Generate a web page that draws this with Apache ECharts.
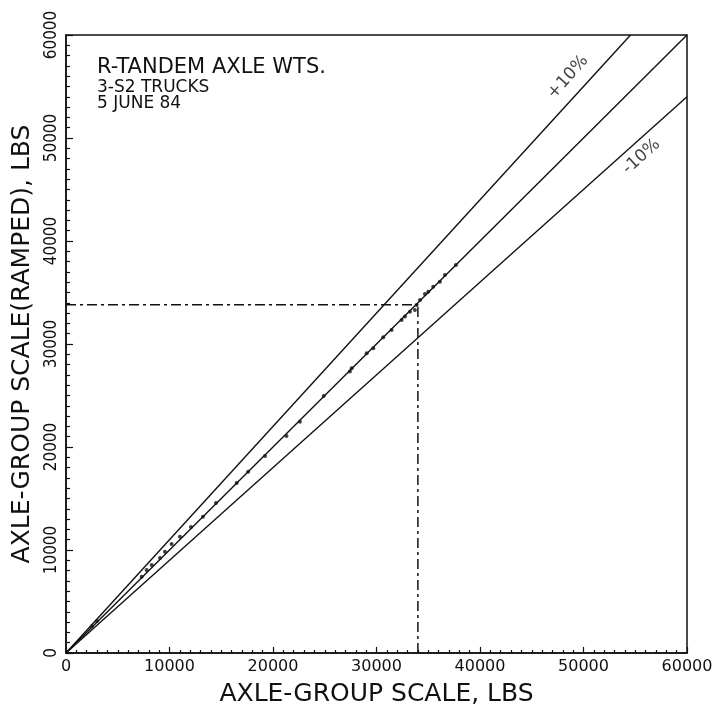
<!DOCTYPE html>
<html>
<head>
<meta charset="utf-8">
<script src="https://cdn.jsdelivr.net/npm/echarts@6/dist/echarts.min.js"></script>
<style>
html,body{margin:0;padding:0;background:#fff;}
#chart{width:719px;height:714px;}
</style>
</head>
<body>
<div id="chart"></div>
<script>
// ---- data ----
const axisTicks = [0, 10000, 20000, 30000, 40000, 50000, 60000];
const pointX = [2500, 3000, 7310, 7790, 8280, 9080, 9560, 10200, 11010, 12070, 13230, 14490, 16490, 17600, 19230, 21300, 22600, 24900, 27430, 27600, 29050, 29690, 30650, 31460, 32430, 32750, 33230, 33710, 33880, 34200, 34680, 35000, 35480, 36130, 36610, 37670];
const pointY = [2600, 3100, 7410, 8060, 8540, 9220, 9840, 10580, 11290, 12230, 13230, 14560, 16500, 17600, 19130, 21070, 22460, 24950, 27320, 27650, 29100, 29590, 30650, 31370, 32340, 32660, 33140, 33300, 33790, 34280, 34860, 35080, 35570, 36050, 36700, 37680];
const lineEqual = [[0, 0], [60000, 60000]];
const linePlus10 = [[0, 0], [54545, 60000]];
const lineMinus10 = [[0, 0], [60000, 54000]];
const refX = 34000;
const refY = 33800;
const refHoriz = [[0, refY], [refX, refY]];
const refVert = [[refX, 0], [refX, refY]];
const plusLabel = ['+10%', 48500, 55900];
const minusLabel = ['-10%', 55600, 48200];
const noteLines = ['R-TANDEM AXLE WTS.', '3-S2 TRUCKS', '5 JUNE 84'];
const xTitle = 'AXLE-GROUP SCALE, LBS';
const yTitle = 'AXLE-GROUP SCALE(RAMPED), LBS';

const points = pointX.map((x, i) => [x, pointY[i]]);
const FONT = 'DejaVu Sans';

const chart = echarts.init(document.getElementById('chart'), null, {renderer: 'canvas'});
const lineStyle = {color: '#111', width: 1.4};
chart.setOption({
  backgroundColor: '#fff',
  animation: false,
  grid: {left: 66, right: 32, top: 35, bottom: 61, show: true, borderColor: '#111', borderWidth: 1.5, containLabel: false},
  xAxis: {
    type: 'value', min: 0, max: 60000, interval: 10000,
    name: xTitle, nameLocation: 'middle', nameGap: 29,
    nameTextStyle: {fontFamily: FONT, fontSize: 25, color: '#111'},
    axisLine: {show: true, lineStyle: {color: '#111', width: 1.5}},
    axisTick: {show: true, inside: true, length: 6, lineStyle: {color: '#111', width: 1.2}},
    minorTick: {show: true, splitNumber: 10, length: 3, lineStyle: {color: '#111', width: 1.2}},
    axisLabel: {fontFamily: FONT, fontSize: 16, color: '#111', margin: 6,
      formatter: v => axisTicks.indexOf(v) >= 0 ? String(v) : ''},
    splitLine: {show: false}
  },
  yAxis: {
    type: 'value', min: 0, max: 60000, interval: 10000,
    name: yTitle, nameLocation: 'middle', nameGap: 31, nameRotate: 90,
    nameTextStyle: {fontFamily: FONT, fontSize: 25, color: '#111'},
    axisLine: {show: true, lineStyle: {color: '#111', width: 1.5}},
    axisTick: {show: true, inside: true, length: 7, lineStyle: {color: '#111', width: 1.2}},
    minorTick: {show: true, splitNumber: 10, length: 4, lineStyle: {color: '#111', width: 1.2}},
    axisLabel: {fontFamily: "'Liberation Sans Narrow', 'DejaVu Sans Condensed', sans-serif", fontSize: 17, color: '#111', rotate: 90, margin: 6,
      formatter: v => axisTicks.indexOf(v) >= 0 ? String(v) : ''},
    splitLine: {show: false}
  },
  graphic: noteLines.map((t, i) => ({
    type: 'text', left: 97, top: [57, 79, 95][i],
    style: {text: t, fontFamily: FONT, fontSize: i === 0 ? 21 : 17, fill: '#111'}
  })),
  series: [
    {type: 'line', data: lineEqual, symbol: 'none', lineStyle: lineStyle, silent: true},
    {type: 'line', data: linePlus10, symbol: 'none', lineStyle: lineStyle, silent: true},
    {type: 'line', data: lineMinus10, symbol: 'none', lineStyle: lineStyle, silent: true},
    {type: 'line', data: refHoriz, symbol: 'none', lineStyle: {color: '#111', width: 1.5, type: [10, 4, 3, 4]}, silent: true},
    {type: 'line', data: refVert, symbol: 'none', lineStyle: {color: '#111', width: 1.5, type: [10, 4, 3, 4]}, silent: true},
    {type: 'scatter', data: points, symbol: 'circle', symbolSize: 4, itemStyle: {color: '#111'}, silent: true},
    {type: 'scatter', symbolSize: 0, silent: true,
      data: [
        {value: [plusLabel[1], plusLabel[2]], label: {formatter: plusLabel[0], rotate: 48}},
        {value: [minusLabel[1], minusLabel[2]], label: {formatter: minusLabel[0], rotate: 42}}
      ],
      label: {show: true, position: 'inside', fontFamily: FONT, fontSize: 17, color: '#111'}
    }
  ]
});
</script>
</body>
</html>
